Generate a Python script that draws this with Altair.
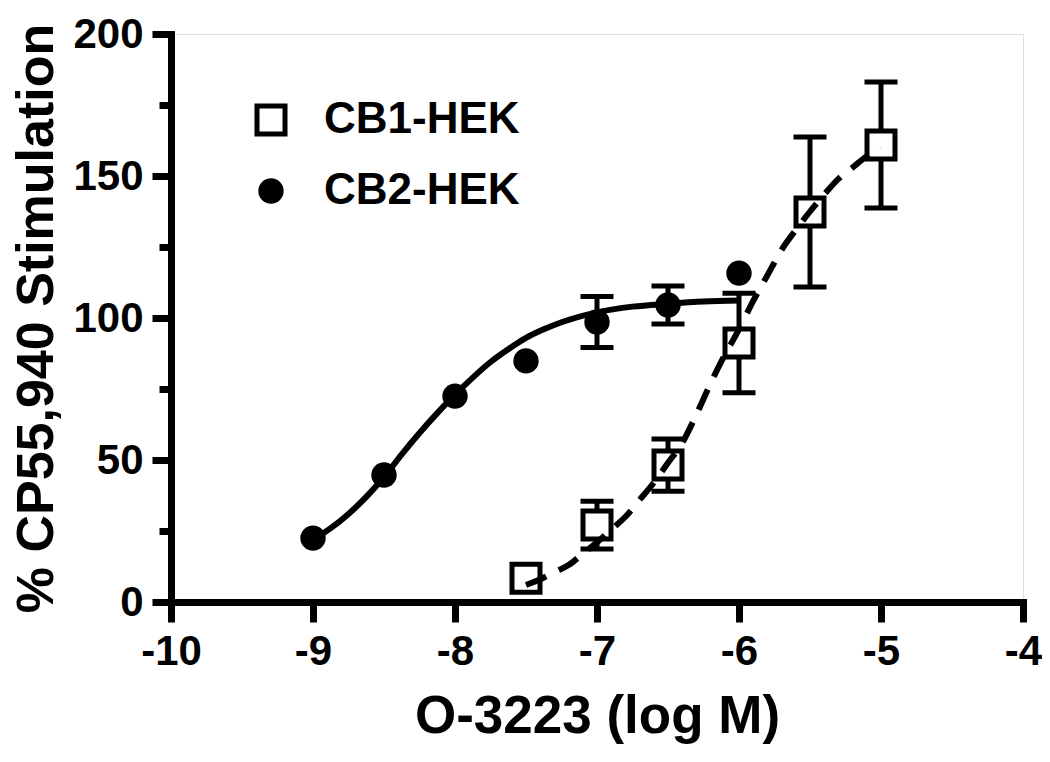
import altair as alt
import pandas as pd

# ---- data ----
cb2_x = [-9.0, -8.5, -8.0, -7.5, -7.0, -6.5, -6.0]
cb2_y = [22.5, 44.7, 72.5, 84.9, 98.6, 104.6, 115.8]
cb2_sem = [0, 0, 0, 0, 9.0, 6.7, 0]

cb1_x = [-7.5, -7.0, -6.5, -6.0, -5.5, -5.0]
cb1_y = [8.4, 27.1, 48.2, 91.2, 137.3, 160.9]
cb1_sem = [0, 8.4, 9.2, 17.5, 26.4, 22.2]

# fitted curves
cb2_fit_x = [-9.0, -8.875, -8.75, -8.625, -8.5, -8.375, -8.25, -8.125, -8.0, -7.875,
             -7.75, -7.625, -7.5, -7.375, -7.25, -7.0, -6.75, -6.5, -6.25, -6.0]
cb2_fit_y = [22, 26, 31, 37, 44, 52, 59.5, 66.5, 73, 79,
             84.5, 89, 93, 96, 98.5, 102, 104, 105, 105.8, 106.2]

cb1_fit_x = [-7.5, -7.4, -7.3, -7.2, -7.1, -7.0, -6.9, -6.8, -6.7, -6.6, -6.5, -6.4, -6.3,
             -6.2, -6.1, -6.0, -5.9, -5.8, -5.7, -5.6, -5.5, -5.4, -5.3, -5.2, -5.1, -5.0]
cb1_fit_y = [6, 8, 10.5, 13, 17, 21, 25.5, 30, 36, 42, 49, 56, 66,
             77, 87, 96, 106, 115, 124, 131, 137.5, 143.5, 149, 153, 157, 160]

series_names = ["CB1-HEK", "CB2-HEK"]
x_ticks = [-10, -9, -8, -7, -6, -5, -4]
y_ticks = [0, 25, 50, 75, 100, 125, 150, 175, 200]

FONT = "Liberation Sans"

pts = pd.DataFrame(
    {"x": cb1_x + cb2_x,
     "y": cb1_y + cb2_y,
     "sem": cb1_sem + cb2_sem,
     "series": [series_names[0]] * len(cb1_x) + [series_names[1]] * len(cb2_x)}
)
pts["lo"] = pts["y"] - pts["sem"]
pts["hi"] = pts["y"] + pts["sem"]
err = pts[pts["sem"] > 0]

fit1 = pd.DataFrame({"x": cb1_fit_x, "y": cb1_fit_y})
fit2 = pd.DataFrame({"x": cb2_fit_x, "y": cb2_fit_y})

xscale = alt.Scale(domain=[-10, -4], nice=False, zero=False)
yscale = alt.Scale(domain=[0, 200], nice=False)

xaxis = alt.Axis(
    values=x_ticks, title="O-3223 (log M)", grid=False,
    labelExpr="'' + datum.value",
    domainWidth=7, domainColor="black", domainCap="square",
    tickWidth=7, tickColor="black", tickSize=20,
    labelFont=FONT, labelFontSize=42, labelFontWeight="bold", labelColor="black",
    labelPadding=9, labelFlush=False, labelOverlap=False,
    titleFont=FONT, titleFontSize=53, titleFontWeight="bold", titleColor="black",
    titlePadding=18,
)
yaxis = alt.Axis(
    values=y_ticks, title="% CP55,940 Stimulation", grid=False,
    domainWidth=7, domainColor="black", domainCap="square",
    tickWidth=7, tickColor="black",
    tickSize={"condition": {"test": "datum.value % 50 === 0", "value": 19}, "value": 12},
    labelExpr="datum.value % 50 === 0 ? datum.label : ''",
    labelFont=FONT, labelFontSize=42, labelFontWeight="bold", labelColor="black",
    labelPadding=9, labelFlush=False, labelOverlap=False,
    titleFont=FONT, titleFontSize=52, titleFontWeight="bold", titleColor="black",
    titlePadding=9,
)

X = alt.X("x:Q", scale=xscale, axis=xaxis)
Y = alt.Y("y:Q", scale=yscale, axis=yaxis)

rules = alt.Chart(err).mark_rule(color="black", strokeWidth=5, opacity=1).encode(
    x=alt.X("x:Q", scale=xscale, axis=xaxis), y=alt.Y("lo:Q", scale=yscale, axis=yaxis), y2="hi:Q"
)
cap_lo = alt.Chart(err).mark_tick(color="black", orient="horizontal", size=33, thickness=5,
                                  opacity=1).encode(
    x=alt.X("x:Q", scale=xscale), y=alt.Y("lo:Q", scale=yscale)
)
cap_hi = alt.Chart(err).mark_tick(color="black", orient="horizontal", size=33, thickness=5,
                                  opacity=1).encode(
    x=alt.X("x:Q", scale=xscale), y=alt.Y("hi:Q", scale=yscale)
)

legend = alt.Legend(
    title=None, orient="none", legendX=78, legendY=64,
    labelFont=FONT, labelFontSize=44, labelFontWeight="bold", labelColor="black",
    labelLimit=0, symbolStrokeColor="black", symbolStrokeWidth=5, rowPadding=25,
    labelOffset=31,
)

points = alt.Chart(pts).mark_point(filled=True, strokeWidth=5, opacity=1).encode(
    x=X, y=Y,
    shape=alt.Shape("series:N", scale=alt.Scale(domain=series_names, range=["square", "circle"]),
                    legend=legend),
    fill=alt.Fill("series:N", scale=alt.Scale(domain=series_names, range=["white", "black"]),
                  legend=legend),
    stroke=alt.Stroke("series:N", scale=alt.Scale(domain=series_names, range=["black", "black"]),
                      legend=legend),
    size=alt.Size("series:N", scale=alt.Scale(domain=series_names, range=[784, 415]),
                  legend=legend),
)

line2 = alt.Chart(fit2).mark_line(color="black", strokeWidth=6, interpolate="monotone").encode(x=X, y=Y)
line1 = alt.Chart(fit1).mark_line(color="black", strokeWidth=6, strokeDash=[22, 14],
                                  interpolate="monotone").encode(x=X, y=Y)

chart = alt.layer(rules, cap_lo, cap_hi, points, line2, line1).properties(
    width=852, height=568,
    autosize=alt.AutoSizeParams(type="none"),
    padding={"left": 163, "top": 26, "right": 19, "bottom": 150},
).configure_view(stroke=None).configure(background="white")

chart.save("out.html", embed_options={"renderer": "svg", "actions": False})
